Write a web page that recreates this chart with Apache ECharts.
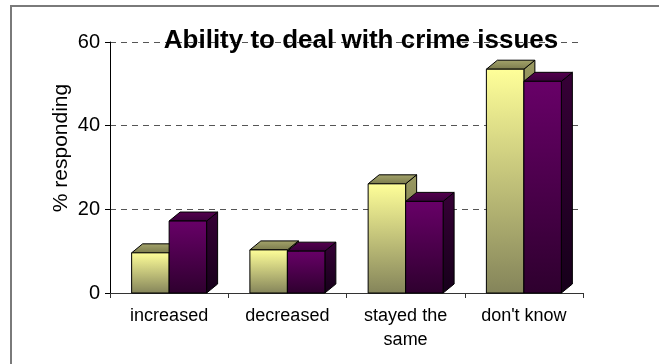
<!DOCTYPE html>
<html><head><meta charset="utf-8">
<script src="https://cdn.jsdelivr.net/npm/echarts@6/dist/echarts.min.js"></script>
<style>html,body{margin:0;padding:0;background:#fff}#c{width:659px;height:364px}</style>
</head><body><div id="c"></div>
<script>
const categories = ['increased', 'decreased', 'stayed the\nsame', "don't know"];
const series1 = [9.6, 10.3, 26.1, 53.5];
const series2 = [17.2, 10.0, 21.9, 50.6];
const yTicks = [0, 20, 40, 60];
const titleText = 'Ability to deal with crime issues';
const yName = '% responding';

const FONT = '"Liberation Sans", Arial, sans-serif';
const G = echarts.graphic.LinearGradient;
const palettes = [
  { front: ['#ffff99', '#84845a'], top: ['#a5a56c', '#7a7a4c'], side: ['#9a9a62', '#5e5e3a'] },
  { front: ['#680068', '#2e002e'], top: ['#55004f', '#38003a'], side: ['#360036', '#16001a'] }
];
function makeRender(idx) {
  const pal = palettes[idx];
  return function (params, api) {
    const i = api.value(0), v = api.value(1);
    const top = api.coord([i, v]);
    const base = api.coord([i, 0]);
    const cw = api.size([1, 0])[0];
    const bw = cw * 0.317;
    const x0 = top[0] - bw + idx * bw;
    const yT = top[1], yB = base[1];
    const dx = 11, dy = 9;
    const st = { stroke: '#000', lineWidth: 1, lineJoin: 'miter' };
    return {
      type: 'group', children: [
        { type: 'polygon', shape: { points: [[x0 + bw, yT], [x0 + bw + dx, yT - dy], [x0 + bw + dx, yB - dy], [x0 + bw, yB]] },
          style: Object.assign({ fill: new G(0, 0, 0, 1, [{ offset: 0, color: pal.side[0] }, { offset: 1, color: pal.side[1] }]) }, st) },
        { type: 'polygon', shape: { points: [[x0, yT], [x0 + dx, yT - dy], [x0 + bw + dx, yT - dy], [x0 + bw, yT]] },
          style: Object.assign({ fill: new G(0, 0, 0, 1, [{ offset: 0, color: pal.top[0] }, { offset: 1, color: pal.top[1] }]) }, st) },
        { type: 'rect', shape: { x: x0, y: yT, width: bw, height: yB - yT },
          style: Object.assign({ fill: new G(0, 0, 0, 1, [{ offset: 0, color: pal.front[0] }, { offset: 1, color: pal.front[1] }]) }, st) }
      ]
    };
  };
}

const chart = echarts.init(document.getElementById('c'), null, { renderer: 'canvas' });
chart.setOption({
  animation: false,
  backgroundColor: '#fff',
  grid: { left: 110, right: 76, top: 42, bottom: 71, containLabel: false },
  xAxis: {
    type: 'category', data: categories,
    axisLine: { lineStyle: { color: '#333', width: 1 } },
    axisTick: { show: true, length: 5, lineStyle: { color: '#333' } },
    axisLabel: { interval: 0, fontSize: 18, lineHeight: 24, margin: 11, color: '#000', fontFamily: FONT }
  },
  yAxis: {
    type: 'value', min: yTicks[0], max: yTicks[yTicks.length - 1], interval: yTicks[1] - yTicks[0],
    axisLine: { show: true, lineStyle: { color: '#000', width: 1 } },
    axisTick: { show: true, length: 5, lineStyle: { color: '#000' } },
    axisLabel: { fontSize: 20, margin: 10, color: '#000', fontFamily: FONT },
    splitLine: { show: true, lineStyle: { color: '#555', type: [6, 5], width: 1 } }
  },
  series: [
    { name: 'Series 1', type: 'custom', renderItem: makeRender(0), data: series1.map((v, i) => [i, v]), encode: { x: 0, y: 1 }, z: 2 },
    { name: 'Series 2', type: 'custom', renderItem: makeRender(1), data: series2.map((v, i) => [i, v]), encode: { x: 0, y: 1 }, z: 3 }
  ],
  graphic: [
    { type: 'rect', z: -10, shape: { x: 11, y: 6, width: 700, height: 400 }, style: { fill: 'none', stroke: '#7a7a7a', lineWidth: 2 } },
    { type: 'text', z: 10, x: 361, y: 41, style: { text: titleText, align: 'center', verticalAlign: 'middle', font: 'bold 26px ' + FONT, fill: '#000' } },
    { type: 'text', z: 10, x: 61, y: 148, rotation: Math.PI / 2, style: { text: yName, align: 'center', verticalAlign: 'middle', font: '21px ' + FONT, fill: '#000' } }
  ]
});
</script>
</body></html>
